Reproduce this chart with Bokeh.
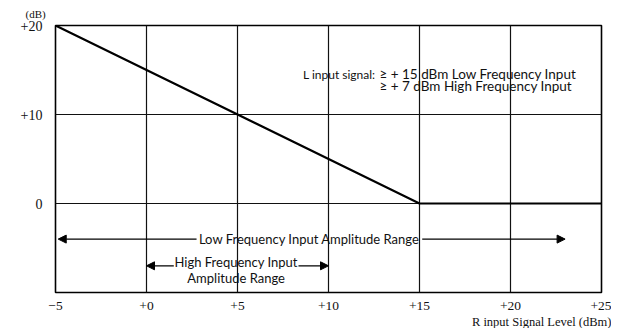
from bokeh.plotting import figure
from bokeh.models import Range1d, FixedTicker, Label, Arrow, NormalHead, Title
from bokeh.embed import file_html
from bokeh.resources import INLINE

# ---- data ----
x_ticks = [-5, 0, 5, 10, 15, 20, 25]
x_tick_labels = ["\u22125", "+0", "+5", "+10", "+15", "+20", "+25"]
y_ticks = [-10, 0, 10, 20]
y_tick_labels = ["", "0", "+10", "+20"]

curve_x = [-5, 15, 25]
curve_y = [20, 0, 0]

low_range = [-4.85, 23.0]     # low frequency input amplitude range (dBm)
low_level = -4.0
low_gap = [2.75, 15.15]
high_range = [0.0, 10.0]      # high frequency input amplitude range (dBm)
high_level = -7.0
high_gap = [1.5, 8.35]

note_head = "L input signal:"
note_lines = ["\u2265 + 15 dBm Low Frequency Input", "\u2265 + 7 dBm High Frequency Input"]

FONT = "Lato"
SERIF = "Liberation Serif"

p = figure(width=611, height=328, output_backend="svg", toolbar_location=None,
           x_range=Range1d(-5, 25), y_range=Range1d(-10, 20),
           min_border_left=55, min_border_right=10, min_border_top=24, min_border_bottom=30)
p.background_fill_color = "white"
p.border_fill_color = "white"
p.outline_line_color = "black"
p.outline_line_width = 1.6

p.xaxis.ticker = FixedTicker(ticks=x_ticks)
p.yaxis.ticker = FixedTicker(ticks=y_ticks)
p.xaxis.major_label_overrides = {t: s for t, s in zip(x_ticks, x_tick_labels)}
p.yaxis.major_label_overrides = {t: s for t, s in zip(y_ticks, y_tick_labels)}
for ax in (p.xaxis, p.yaxis):
    ax.axis_line_color = None
    ax.major_tick_line_color = None
    ax.minor_tick_line_color = None
    ax.major_label_text_font = SERIF
    ax.major_label_text_font_size = "14px"
    ax.major_label_text_color = "#111111"
p.xaxis.major_label_text_font_size = "13.5px"
p.xaxis.major_label_standoff = 3
p.yaxis.major_label_standoff = 7

p.xgrid.grid_line_color = "#111111"
p.ygrid.grid_line_color = "#111111"
p.xgrid.grid_line_alpha = 1.0
p.ygrid.grid_line_alpha = 1.0
p.xgrid.grid_line_width = 1.2
p.ygrid.grid_line_width = 1.2

p.line(curve_x, curve_y, line_color="black", line_width=2.2)

def arrow(x0, x1, y):
    p.add_layout(Arrow(x_start=x0, y_start=y, x_end=x1, y_end=y,
                       line_color="black", line_width=1.2,
                       end=NormalHead(size=8, fill_color="black", line_color="black")))

arrow(low_gap[0], low_range[0], low_level)
arrow(low_gap[1], low_range[1], low_level)
arrow(high_gap[0], high_range[0], high_level)
arrow(high_gap[1], high_range[1], high_level)

def label(x, y, t, size="13px", align="left", baseline="middle", font=FONT):
    p.add_layout(Label(x=x, y=y, text=t, text_font=font, text_font_size=size,
                       text_align=align, text_baseline=baseline, text_color="#111111"))

label((low_gap[0] + low_gap[1]) / 2, low_level, "Low Frequency Input Amplitude Range",
      align="center")
label((high_gap[0] + high_gap[1]) / 2, high_level + 0.45, "High Frequency Input",
      align="center")
label((high_gap[0] + high_gap[1]) / 2, high_level - 1.35, "Amplitude Range",
      align="center")

label(8.6, 14.5, note_head, size="12px")
label(12.8, 14.5, note_lines[0], size="13.5px")
label(12.8, 13.2, note_lines[1], size="13.5px")

xlab = Title(text="R input Signal Level (dBm)", align="right", text_font=SERIF,
             text_font_size="12.5px", text_font_style="normal", text_color="#111111",
             standoff=0, offset=-10)
p.add_layout(xlab, "below")
ylab = Title(text="(dB)", align="left", text_font=SERIF,
             text_font_size="11px", text_font_style="normal", text_color="#111111",
             standoff=11, offset=-30)
p.add_layout(ylab, "above")

open("out.html", "w").write(file_html(p, INLINE))
